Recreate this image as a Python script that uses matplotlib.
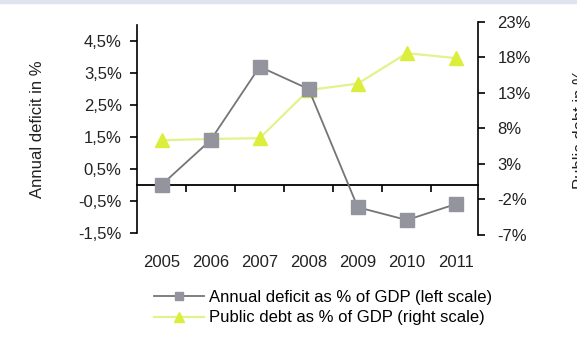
import matplotlib
matplotlib.use("Agg")
import matplotlib.pyplot as plt
from matplotlib.lines import Line2D
import numpy as np

plt.rcParams["font.family"] = ["Liberation Sans", "DejaVu Sans"]

years = [2005, 2006, 2007, 2008, 2009, 2010, 2011]
deficit = [0.0, 1.4, 3.7, 3.0, -0.7, -1.1, -0.6]
debt = [6.3, 6.5, 6.6, 13.4, 14.3, 18.6, 17.9]

left_ticks = [-1.5, -0.5, 0.5, 1.5, 2.5, 3.5, 4.5]
right_ticks = [-7, -2, 3, 8, 13, 18, 23]

GRAY = "#757575"
SQ = "#94949e"
YEL_LINE = "#e4f28c"
YEL = "#dbee3c"
TXT = "#222222"
FS = 12

fig = plt.figure(figsize=(5.77, 3.41), dpi=100)
ax = fig.add_axes([0.2374, 0.3079, 0.5910, 0.6276])
ax2 = ax.twinx()

ax.set_xlim(2004.5, 2011.45)
ax.set_ylim(-1.6, 5.1)
ax2.set_ylim(-7.2, 22.9)

l1, = ax.plot(years, deficit, color=GRAY, lw=1.3, marker="s", ms=10.5,
              mfc=SQ, mec=SQ, zorder=3)
l2, = ax2.plot(years, debt, color=YEL_LINE, lw=1.6, marker="^", ms=10.5,
               mfc=YEL, mec=YEL, zorder=3)
ax.set_zorder(ax2.get_zorder() + 1)
ax.patch.set_visible(False)

# left axis
ax.set_yticks(left_ticks)
ax.set_yticklabels([f"{v:.1f}%".replace(".", ",") for v in left_ticks],
                   fontsize=FS, color=TXT)
ax.tick_params(axis="y", direction="out", length=5, width=1.2, pad=6)
ax.spines["left"].set_bounds(-1.5, 5.0)
ax.spines["left"].set_linewidth(1.2)
for s in ["top", "right", "bottom"]:
    ax.spines[s].set_visible(False)
ax.set_ylabel("Annual deficit in %", fontsize=FS, color=TXT, labelpad=24)

# right axis
ax2.set_yticks(right_ticks)
ax2.set_yticklabels([f"{v}%" for v in right_ticks], fontsize=FS, color=TXT)
ax2.tick_params(axis="y", direction="out", length=5, width=1.2, pad=9)
ax2.spines["right"].set_bounds(-7, 23)
ax2.spines["right"].set_linewidth(1.2)
for s in ["top", "left", "bottom"]:
    ax2.spines[s].set_visible(False)
ax2.set_ylabel("Public debt in %", fontsize=FS, color=TXT, labelpad=30)

# year labels at the bottom, no tick marks
ax.set_xticks(years)
ax.set_xticklabels([str(y) for y in years], fontsize=FS, color=TXT)
ax.tick_params(axis="x", length=0, pad=14)

# zero line with category-boundary ticks
y0, y1 = ax.get_ylim()
zero_frac = (0 - y0) / (y1 - y0)
sec = ax.secondary_xaxis(zero_frac)
sec.set_xticks([y + 0.5 for y in years[:-1]])
sec.set_xticklabels([])
sec.tick_params(axis="x", direction="out", length=5, width=1.2)
sec.spines["bottom"].set_linewidth(1.3)

# legend
h1 = Line2D([], [], color=GRAY, lw=1.3, marker="s", ms=6, mfc=SQ, mec=SQ)
h2 = Line2D([], [], color=YEL_LINE, lw=1.6, marker="^", ms=7, mfc=YEL, mec=YEL)
fig.legend([h1, h2],
           ["Annual deficit as % of GDP (left scale)",
            "Public debt as % of GDP (right scale)"],
           loc="upper left", bbox_to_anchor=(0.253, 0.175), frameon=False,
           fontsize=FS, handlelength=3.0, handletextpad=0.3,
           labelspacing=0.35, borderpad=0)

# faint band at the very top
fig.patches.append(plt.Rectangle((0, 0.99), 1, 0.01, transform=fig.transFigure,
                                 color="#dfe3ef", zorder=0))

fig.savefig("out.png", dpi=100)
